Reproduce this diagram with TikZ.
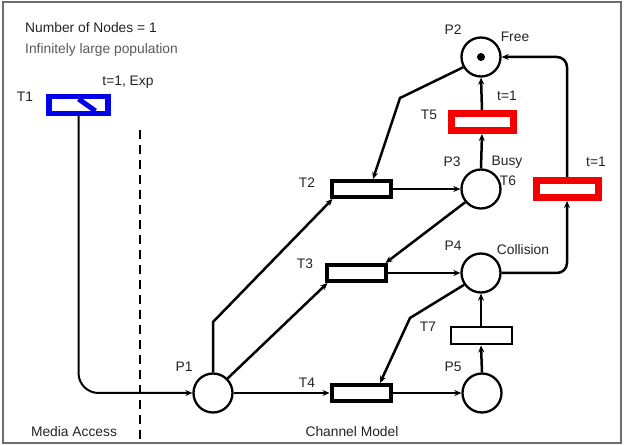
\documentclass[tikz,border=0pt]{standalone}
\usepackage{fontspec}
\setmainfont{Liberation Sans}
\usepackage{xcolor}
\usetikzlibrary{arrows.meta, positioning, calc}
\definecolor{cFrame}{RGB}{110,110,110}
\definecolor{cText}{RGB}{35,35,35}
\definecolor{cBlue}{RGB}{0,0,235}
\definecolor{cRed}{RGB}{245,0,0}
\tikzset{
	place/.style    ={circle, draw=black, line width=2.3pt, minimum size=39pt, inner sep=0pt},
	trans/.style    ={rectangle, draw=black, line width=4pt, minimum width=59pt, minimum height=16pt, inner sep=0pt},
	thintrans/.style={rectangle, draw=black, line width=2pt, minimum width=61pt, minimum height=17pt, inner sep=0pt},
	timedtrans/.style={rectangle, draw=cRed, line width=7pt, minimum width=62pt, minimum height=17pt, inner sep=0pt},
	exptrans/.style ={rectangle, draw=cBlue, line width=5.5pt, minimum width=59pt, minimum height=17pt, inner sep=0pt},
	lbl/.style      ={font=\fontsize{13.8}{15}\selectfont, text=cText, inner sep=0pt},
	arc/.style      ={-{Stealth[length=7pt, width=6pt]}, line width=2.5pt},
	thinarc/.style  ={-{Stealth[length=7pt, width=6pt]}, line width=1.5pt},
}
\begin{document}
\begin{tikzpicture}[x=1pt, y=-1pt]
	\useasboundingbox (0,0) rectangle (625,446);
	\draw[cFrame, line width=1.5pt] (3,2) rectangle (621,443);
	% header texts
	\node[lbl, anchor=west] (hdr1) at (25,28) {Number of Nodes = 1};
	\node[lbl, anchor=west, text=black!65] (hdr2) at (25,50) {Infinitely large population};
	% media access side
	\node[exptrans] (T1) at (78.5,105) {};
	\draw[cBlue, line width=5pt] ($(T1.center)+(0,-6)$) -- ($(T1.center)+(17,6)$);
	\node[lbl] (lT1) at (25,97) {T1};
	\node[lbl] (tT1) at (128,82) {t=1, Exp};
	\draw[black, line width=1.5pt, dash pattern=on 9pt off 6pt] (140,130) -- (140,442);
	\node[lbl] (lMA) at (74,432) {Media Access};
	\node[lbl] (lCM) at (352,432) {Channel Model};
	% places
	\node[place] (P1) at (213,393) {};
	\node[place] (P2) at (481,57) {};
	\node[place] (P3) at (481,189) {};
	\node[place] (P4) at (481,273) {};
	\node[place] (P5) at (482,393) {};
	\fill (P2.center) circle[radius=4pt];
	% transitions
	\node[trans] (T2) at (361,189) {};
	\node[trans] (T3) at (356,273) {};
	\node[trans] (T4) at (361,393) {};
	\node[timedtrans] (T5) at (482,122) {};
	\node[timedtrans] (T6) at (567,189) {};
	\node[thintrans] (T7) at (481,336) {};
	% labels
	\node[lbl] (lP1) at (184,367) {P1};
	\node[lbl] (lP2) at (453,30) {P2};
	\node[lbl] (sP2) at (515,37) {Free};
	\node[lbl] (lP3) at (452,162) {P3};
	\node[lbl] (sP3) at (507,162) {Busy};
	\node[lbl] (lP4) at (453,246) {P4};
	\node[lbl] (sP4) at (523,250) {Collision};
	\node[lbl] (lP5) at (453,367) {P5};
	\node[lbl] (lT2) at (307,183) {T2};
	\node[lbl] (lT3) at (305,264) {T3};
	\node[lbl] (lT4) at (307,383) {T4};
	\node[lbl] (lT5) at (429,115) {T5};
	\node[lbl] (tT5) at (507,96) {t=1};
	\node[lbl] (lT6) at (508,181) {T6};
	\node[lbl] (tT6) at (596,162) {t=1};
	\node[lbl] (lT7) at (428,327) {T7};
	% bends
	\coordinate (kP1) at (213,322);
	\coordinate (kP2) at (400,98);
	\coordinate (kP4) at (410,318);
	% arcs
	\draw[arc, line width=2pt, rounded corners=20pt] (T1.south) |- (P1.west);
	\draw[arc] (P1.north) -- (kP1) -- ($(T2.south west)+(3,0)$);
	\draw[arc] (P1.45) -- ($(T3.south west)+(3,0)$);
	\draw[thinarc] (P1.east) -- (T4.west);
	\draw[arc] (T2.east) -- (P3.west);
	\draw[arc] (P3.220) -- ($(T3.north east)+(-2,0)$);
	\draw[thinarc] (T3.east) -- (P4.west);
	\draw[arc] (P2.210) -- (kP2) -- ($(T2.north)+(12,0)$);
	\draw[arc] (P3.north) -- (T5.south);
	\draw[arc] (T5.north) -- (P2.south);
	\draw[arc, rounded corners=10pt] (T6.north) |- (P2.east);
	\draw[arc, rounded corners=10pt] (P4.east) -| (T6.south);
	\draw[arc] (P4.215) -- (kP4) -- ($(T4.north)+(19,0)$);
	\draw[thinarc] (T4.east) -- (P5.west);
	\draw[arc] (P5.north) -- (T7.south);
	\draw[arc] (T7.north) -- (P4.south);
\end{tikzpicture}
\end{document}
